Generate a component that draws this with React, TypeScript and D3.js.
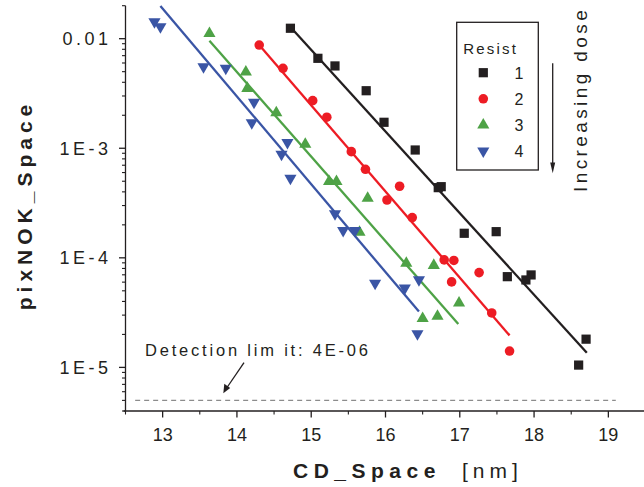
import * as d3 from "d3";
import React from "react";

// Resist labels and colours
const resists = ["1", "2", "3", "4"];
const colors = ["#231f20", "#ed1c24", "#4ea246", "#3a55a5"];
const shapes = ["square", "circle", "triangle", "triangleDown"];

// Series 1 (black squares)
const cd1 = [14.72, 15.09, 15.32, 15.74, 15.98, 16.4, 16.71, 16.75, 17.06, 17.49, 17.64, 17.89, 17.96, 18.7, 18.6];
const pix1 = [0.01245, 0.00662, 0.00564, 0.00335, 0.001726, 0.000964, 0.000437, 0.000446, 0.0001675, 0.0001733, 6.73e-5, 6.28e-5, 6.98e-5, 1.81e-5, 1.05e-5];
// Series 2 (red circles)
const cd2 = [14.3, 14.62, 15.02, 15.21, 15.54, 15.73, 16.19, 16.02, 16.36, 16.79, 16.92, 17.26, 16.89, 17.43, 17.67];
const pix2 = [0.00875, 0.00537, 0.00272, 0.00192, 0.000931, 0.000643, 0.00045, 0.000337, 0.000233, 9.57e-5, 9.46e-5, 7.33e-5, 6.03e-5, 3.14e-5, 1.41e-5];
// Series 3 (green triangles)
const cd3 = [13.63, 14.12, 14.14, 14.53, 14.92, 15.24, 15.34, 15.76, 15.65, 16.28, 16.65, 16.99, 16.5, 16.7];
const pix3 = [0.01115, 0.00497, 0.00352, 0.00211, 0.00109, 0.000498, 0.000498, 0.00035, 0.000171, 8.93e-5, 8.53e-5, 3.87e-5, 2.79e-5, 2.93e-5];
// Series 4 (blue down triangles)
const cd4 = [12.89, 12.97, 13.55, 13.85, 14.23, 14.2, 14.68, 14.6, 14.72, 15.32, 15.43, 15.59, 15.86, 16.26, 16.45, 16.43];
const pix4 = [0.01429, 0.01286, 0.00555, 0.00537, 0.00263, 0.00171, 0.00113, 0.000883, 0.000532, 0.000252, 0.000178, 0.000178, 5.86e-5, 5.31e-5, 6.32e-5, 2.03e-5];

// Fitted lines (start / end)
const fitCd = [[14.72, 18.71], [14.3, 17.67], [13.63, 16.98], [12.97, 16.45]];
const fitPix = [[0.0128, 1.36e-5], [0.00875, 1.96e-5], [0.00959, 2.49e-5], [0.0199, 3.23e-5]];

// Detection limit line
const detCd = [12.63, 19.1];
const detPix = 5e-6;

// Axes
const xTicks = [13, 14, 15, 16, 17, 18, 19];
const xMinor = [12.5, 13.5, 14.5, 15.5, 16.5, 17.5, 18.5, 19.5];
const yTicks = [1e-5, 1e-4, 1e-3, 1e-2];
const yTickLabels = ["1E-5", "1E-4", "1E-3", "0.01"];

const W = 644;
const H = 487;
const FONT = "'Liberation Sans', Arial, sans-serif";
const INK = "#231f20";

const series = [
  { cd: cd1, pix: pix1 },
  { cd: cd2, pix: pix2 },
  { cd: cd3, pix: pix3 },
  { cd: cd4, pix: pix4 },
];

function Marker({ shape, x, y, color }: { shape: string; x: number; y: number; color: string }) {
  if (shape === "square") return <rect x={x - 4.6} y={y - 4.6} width={9.2} height={9.2} fill={color} />;
  if (shape === "circle") return <circle cx={x} cy={y} r={4.8} fill={color} />;
  const p = d3.symbol().type(d3.symbolTriangle).size(64)() as string;
  const rot = shape === "triangleDown" ? 180 : 0;
  return <path d={p} transform={`translate(${x},${y}) rotate(${rot})`} fill={color} />;
}

export default function App() {
  const x = d3.scaleLinear([12.5, 19.5], [125.5, 645.5]);
  const y = d3.scaleLog([4e-6, 0.02], [411, 5.7]);
  const x0 = x.range()[0];
  const yb = y.range()[0];

  // minor log ticks 2..9 per decade inside the domain
  const yMinor: number[] = [];
  for (let e = -6; e <= -2; e++) {
    for (let m = 2; m <= 9; m++) {
      const v = m * Math.pow(10, e);
      if (v >= 4e-6 * 0.999 && v <= 0.02 * 1.001) yMinor.push(v);
    }
  }

  return (
    <svg width={W} height={H} style={{ position: "absolute", left: 0, top: 0, background: "#fff" }} fontFamily={FONT}>
      {/* detection limit */}
      <line x1={x(detCd[0])} x2={x(detCd[1])} y1={y(detPix)} y2={y(detPix)} stroke="#8c8c8c" strokeWidth={1.2} strokeDasharray="5,4" />
      <text x={145} y={356} fontSize={16.5} letterSpacing={2.8} fill={INK}>Detection lim it: 4E-06</text>
      <line x1={244} y1={362.7} x2={226} y2={389} stroke={INK} strokeWidth={1.3} />
      <path d="M223.3,393.3 L224.3,383.8 L230.2,387.9 Z" fill={INK} />

      {/* fit lines */}
      {fitCd.map((c, i) => (
        <line key={"f" + i} x1={x(c[0])} x2={x(c[1])} y1={y(fitPix[i][0])} y2={y(fitPix[i][1])} stroke={colors[i]} strokeWidth={2.3} />
      ))}

      {/* points */}
      {series.map((s, i) =>
        s.cd.map((c, j) => <Marker key={i + "-" + j} shape={shapes[i]} x={x(c)} y={y(s.pix[j])} color={colors[i]} />)
      )}

      {/* axes */}
      <line x1={x0} x2={x0} y1={y.range()[1]} y2={yb} stroke={INK} strokeWidth={1.3} />
      <line x1={x0 - 2} x2={W + 2} y1={yb} y2={yb} stroke={INK} strokeWidth={1.3} />
      {yMinor.map((v) => (
        <line key={"ym" + v} x1={x0 - 3.5} x2={x0} y1={y(v)} y2={y(v)} stroke={INK} strokeWidth={1.1} />
      ))}
      {yTicks.map((v, i) => (
        <g key={"yt" + v}>
          <line x1={x0 - 6.5} x2={x0} y1={y(v)} y2={y(v)} stroke={INK} strokeWidth={1.3} />
          <text x={111.5} y={y(v)} dy="0.36em" textAnchor="end" fontSize={18} letterSpacing={3.5} fill={INK}>
            {yTickLabels[i]}
          </text>
        </g>
      ))}
      {xMinor.map((v) => (
        <line key={"xm" + v} x1={x(v)} x2={x(v)} y1={yb} y2={yb + 3.5} stroke={INK} strokeWidth={1.1} />
      ))}
      {xTicks.map((v) => (
        <g key={"xt" + v}>
          <line x1={x(v)} x2={x(v)} y1={yb} y2={yb + 6.5} stroke={INK} strokeWidth={1.3} />
          <text x={x(v)} y={441} textAnchor="middle" fontSize={18} fill={INK}>{v}</text>
        </g>
      ))}

      {/* axis titles */}
      <text x={293} y={478} fontSize={21} fill={INK} letterSpacing={5.5}>
        <tspan fontWeight="bold">CD_Space</tspan>
        <tspan x={462} letterSpacing={5}>[nm]</tspan>
      </text>
      <text transform="translate(32,205) rotate(-90)" textAnchor="middle" fontSize={21} fontWeight="bold" letterSpacing={5} fill={INK}>
        pixNOK_Space
      </text>

      {/* legend */}
      <rect x={456.7} y={22.3} width={81.6} height={147.7} fill="#fff" stroke={INK} strokeWidth={1.3} />
      <text x={463.3} y={54} fontSize={15} letterSpacing={2.2} fill={INK}>Resist</text>
      {resists.map((r, i) => (
        <g key={"lg" + r}>
          <Marker shape={shapes[i]} x={483.3} y={72.7 + i * 26.1} color={colors[i]} />
          <text x={519} y={72.7 + i * 26.1 + 6} textAnchor="middle" fontSize={16} fill={INK}>{r}</text>
        </g>
      ))}

      {/* increasing dose arrow */}
      <line x1={552.7} x2={552.7} y1={63.3} y2={165} stroke={INK} strokeWidth={1.3} />
      <path d="M552.7,173.3 L550.2,162.5 L555.2,162.5 Z" fill={INK} />
      <text transform="translate(587,192) rotate(-90)" fontSize={19} letterSpacing={3.4} fill={INK}>Increasing dose</text>
    </svg>
  );
}
